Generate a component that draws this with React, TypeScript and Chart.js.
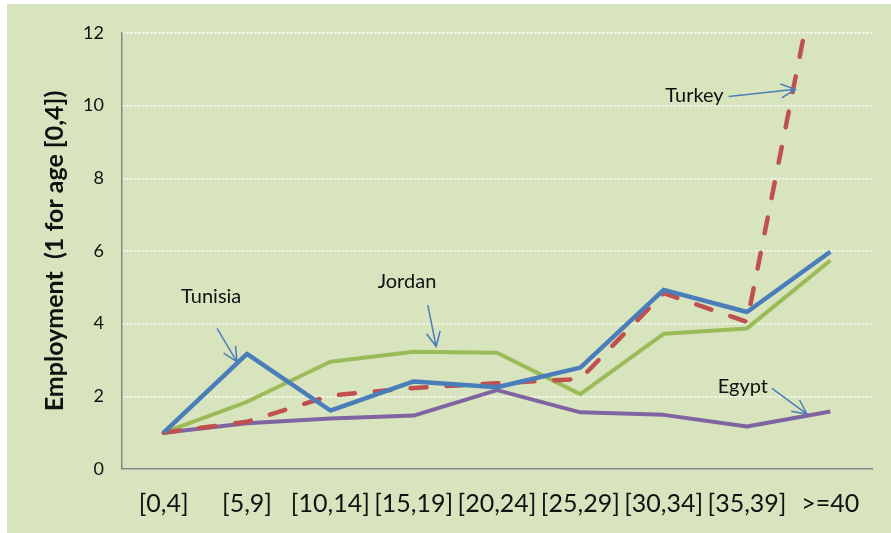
import React, { useEffect, useRef } from 'react';
import { Chart, registerables } from 'chart.js';

Chart.register(...registerables);

const categories = ['[0,4]', '[5,9]', '[10,14]', '[15,19]', '[20,24]', '[25,29]', '[30,34]', '[35,39]', '>=40'];
const tunisia = [1, 3.17, 1.61, 2.41, 2.25, 2.79, 4.93, 4.32, 5.98];
const jordan = [1, 1.85, 2.95, 3.23, 3.2, 2.06, 3.72, 3.87, 5.74];
const turkey = [1, 1.3, 2.02, 2.23, 2.36, 2.48, 4.84, 4.05, 15.6];
const egypt = [1, 1.26, 1.39, 1.47, 2.17, 1.56, 1.49, 1.17, 1.58];
const yTickValues = [0, 2, 4, 6, 8, 10, 12];
const yTitle = 'Employment  (1 for age [0,4])';

// callout labels, in data coordinates (category index, value)
const calloutNames = ['Tunisia', 'Jordan', 'Turkey', 'Egypt'];
const calloutText = [[0.57, 4.75], [2.92, 5.17], [6.37, 10.29], [6.95, 2.28]];
const calloutFrom = [[0.64, 3.87], [3.17, 4.51], [6.78, 10.25], [7.3, 2.22]];
const calloutTo = [[0.88, 2.95], [3.27, 3.37], [7.58, 10.45], [7.72, 1.51]];

const FONT = 'Lato, "Open Sans", sans-serif';

const bgPlugin = {
  id: 'bg',
  beforeDraw(chart: any) {
    const ctx = chart.ctx;
    ctx.save();
    ctx.fillStyle = '#ffffff';
    ctx.fillRect(0, 0, chart.width, chart.height);
    ctx.fillStyle = '#d8e4bd';
    ctx.fillRect(7, 4, chart.width - 7, chart.height - 4);
    ctx.restore();
  },
};

const calloutPlugin = {
  id: 'callouts',
  afterDatasetsDraw(chart: any) {
    const ctx = chart.ctx;
    const xs = chart.scales.x;
    const ys = chart.scales.y;
    ctx.save();
    ctx.font = '20px ' + FONT;
    ctx.fillStyle = '#111111';
    ctx.textAlign = 'center';
    ctx.textBaseline = 'middle';
    calloutNames.forEach((name, i) => {
      ctx.fillText(name, xs.getPixelForValue(calloutText[i][0]), ys.getPixelForValue(calloutText[i][1]));
      const x1 = xs.getPixelForValue(calloutFrom[i][0]);
      const y1 = ys.getPixelForValue(calloutFrom[i][1]);
      const x2 = xs.getPixelForValue(calloutTo[i][0]);
      const y2 = ys.getPixelForValue(calloutTo[i][1]);
      ctx.strokeStyle = '#4a7ebb';
      ctx.lineWidth = 1.5;
      ctx.beginPath();
      ctx.moveTo(x1, y1);
      ctx.lineTo(x2, y2);
      const ang = Math.atan2(y2 - y1, x2 - x1);
      const len = 16;
      const spread = 0.45;
      ctx.moveTo(x2 - len * Math.cos(ang - spread), y2 - len * Math.sin(ang - spread));
      ctx.lineTo(x2, y2);
      ctx.lineTo(x2 - len * Math.cos(ang + spread), y2 - len * Math.sin(ang + spread));
      ctx.stroke();
    });
    ctx.restore();
  },
};

export default function App() {
  const ref = useRef<HTMLCanvasElement>(null);
  useEffect(() => {
    if (!ref.current) return;
    const chart = new Chart(ref.current, {
      type: 'line',
      data: {
        labels: categories,
        datasets: [
          { label: 'Tunisia', data: tunisia, borderColor: '#4a7ebb', borderWidth: 4.5 },
          { label: 'Turkey', data: turkey, borderColor: '#c0504d', borderWidth: 4.5, borderDash: [16, 20], borderCapStyle: 'round', clip: 0 } as any,
          { label: 'Jordan', data: jordan, borderColor: '#9bbb59', borderWidth: 4 },
          { label: 'Egypt', data: egypt, borderColor: '#8064a2', borderWidth: 4 },
        ],
      },
      options: {
        animation: false,
        responsive: false,
        devicePixelRatio: 1,
        layout: { padding: { top: 33, right: 19, left: 0, bottom: 0 } },
        elements: {
          point: { radius: 0, hoverRadius: 0 },
          line: { tension: 0, borderJoinStyle: 'round', fill: false },
        },
        plugins: { legend: { display: false }, tooltip: { enabled: false } },
        scales: {
          x: {
            offset: true,
            grid: { display: false, drawTicks: false },
            border: { display: true, color: '#868686', width: 1.5 },
            ticks: { color: '#111111', font: { family: FONT, size: 25 }, padding: 20, maxRotation: 0, autoSkip: false },
            afterFit: (s: any) => { s.height = 64; },
          },
          y: {
            min: 0,
            max: 12,
            afterBuildTicks: (s: any) => { s.ticks = yTickValues.map((v) => ({ value: v })); },
            grid: { color: '#ffffff', lineWidth: 1.5, drawTicks: false },
            border: { display: true, color: '#868686', width: 1.5, dash: [2, 2] },
            ticks: { color: '#111111', font: { family: FONT, size: 18 }, padding: 18 },
            title: {
              display: true,
              text: yTitle,
              color: '#111111',
              font: { family: FONT, size: 25, weight: 'bold' },
              padding: { top: 40, bottom: 0 },
            },
            afterFit: (s: any) => { s.width = 122; },
          },
        },
      },
      plugins: [bgPlugin, calloutPlugin],
    });
    return () => chart.destroy();
  }, []);
  return (
    <div style={{ position: 'absolute', left: 0, top: 0, width: 891, height: 533 }}>
      <canvas ref={ref} width={891} height={533} style={{ display: 'block', width: 891, height: 533 }} />
    </div>
  );
}
